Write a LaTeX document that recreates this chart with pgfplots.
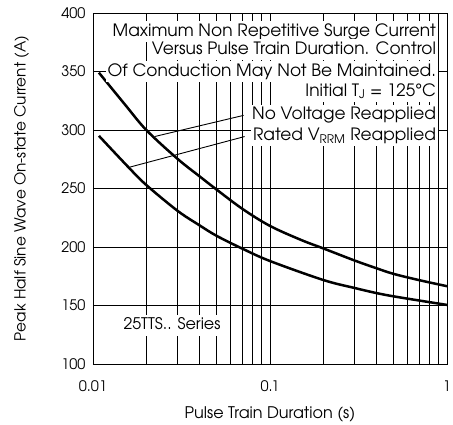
\documentclass[border=0pt]{standalone}
\usepackage{pgfplots}
\pgfplotsset{compat=1.18}
\usepackage{fontspec}
\setmainfont{TeX Gyre Adventor}
\begin{document}
\begin{tikzpicture}
\begin{axis}[
 scale only axis, width=354pt, height=351pt,
 xmode=log, xmin=0.01, xmax=1, ymin=100, ymax=400,
 xtick={0.01,0.1,1}, xticklabels={0.01,0.1,1},
 minor xtick={0.02,0.03,0.04,0.05,0.06,0.07,0.08,0.09,0.2,0.3,0.4,0.5,0.6,0.7,0.8,0.9},
 ytick={100,150,...,400},
 xmajorgrids, xminorgrids, ymajorgrids,
 major grid style={black, line width=0.9pt},
 minor grid style={black, line width=0.9pt},
 major tick length=0pt, minor tick length=0pt,
 axis line style={line width=0.9pt},
 /pgf/number format/assume math mode=true,
 tick label style={font=\fontsize{14.5}{14.5}\selectfont},
 xticklabel style={yshift=-13pt},
 yticklabel style={xshift=-4pt},
 xlabel={Pulse Train Duration (s)},
 ylabel={Peak Half Sine Wave On-state Current (A)},
 xlabel style={font=\fontsize{16}{16}\selectfont, at={(axis description cs:0.5,0)}, anchor=center, yshift=-50pt},
 ylabel style={font=\fontsize{15.3}{15.3}\selectfont, at={(axis description cs:-0.202,0.5)}, anchor=center},
]
\addplot[black, line width=2.5pt, smooth, tension=0.55] coordinates {
 (0.0108,349) (0.015,322.6) (0.02,300) (0.03,275.4) (0.04,260.4) (0.05,249)
 (0.07,232.5) (0.1,218) (0.15,206) (0.2,198.8) (0.3,188.5) (0.4,181.8)
 (0.5,177) (0.7,171.6) (1,166.5)};
\addplot[black, line width=2.5pt, smooth, tension=0.55] coordinates {
 (0.0108,295) (0.0159,268) (0.02,253) (0.03,231) (0.04,218.5) (0.05,209.5)
 (0.07,198.5) (0.1,188) (0.2,171.8) (0.3,165) (0.4,160.6) (0.5,157.8)
 (0.7,154.2) (1,150.5)};
\begin{scope}[every node/.style={fill=white, inner xsep=2pt, inner ysep=2.5pt, text height=12.5pt, text depth=3.5pt, font=\fontsize{17}{17}\selectfont}]
\node[anchor=east] at (rel axis cs:0.975,0.946) {Maximum Non Repetitive Surge Current};
\node[anchor=east] at (rel axis cs:0.975,0.895) {Versus Pulse Train Duration. Control};
\node[anchor=east] at (rel axis cs:0.975,0.833) {Of Conduction May Not Be Maintained.};
\node[anchor=east] at (rel axis cs:0.975,0.776) {Initial T\textsubscript{J} = 125°C};
\node[anchor=east] at (rel axis cs:0.975,0.709) {No Voltage Reapplied};
\node[anchor=east] at (rel axis cs:0.975,0.650) {Rated V\textsubscript{RRM} Reapplied};
\node[anchor=west, font=\fontsize{16}{16}\selectfont] at (rel axis cs:0.08,0.111) {25TTS.. Series};
\end{scope}
\draw[line width=0.9pt] (axis cs:0.0223,294.4) -- (axis cs:0.0709,312.5);
\draw[line width=0.9pt] (axis cs:0.0159,268) -- (axis cs:0.0719,294.4);
\end{axis}
\pgfresetboundingbox
\path (-93pt,-61pt) rectangle (360pt,364pt);
\end{tikzpicture}
\end{document}
